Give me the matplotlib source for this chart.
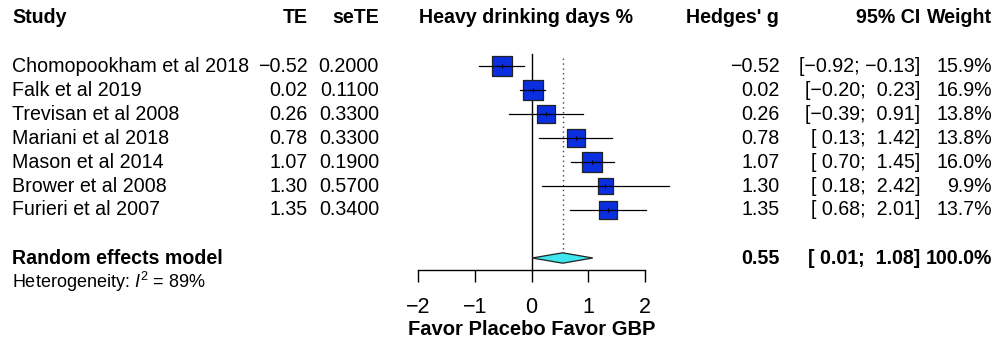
import matplotlib
matplotlib.use("Agg")
import matplotlib.pyplot as plt
import matplotlib.transforms as mtransforms
from matplotlib.patches import Polygon
import numpy as np

plt.rcParams['font.family'] = ['Liberation Sans', 'DejaVu Sans']
plt.rcParams['mathtext.fontset'] = 'custom'
plt.rcParams['mathtext.rm'] = 'Liberation Sans'
plt.rcParams['mathtext.it'] = 'Liberation Sans:italic'

# ---- data ----
studies = ["Chomopookham et al 2018", "Falk et al 2019", "Trevisan et al 2008",
           "Mariani et al 2018", "Mason et al 2014", "Brower et al 2008",
           "Furieri et al 2007"]
te = [-0.52, 0.02, 0.26, 0.78, 1.07, 1.30, 1.35]
sete = [0.2000, 0.1100, 0.3300, 0.3300, 0.1900, 0.5700, 0.3400]
ci_lo = [-0.92, -0.20, -0.39, 0.13, 0.70, 0.18, 0.68]
ci_hi = [-0.13, 0.23, 0.91, 1.42, 1.45, 2.42, 2.01]
weights = [15.9, 16.9, 13.8, 13.8, 16.0, 9.9, 13.7]
pooled_est = 0.55
pooled_lo = 0.01
pooled_hi = 1.08
i2 = 89
xticks = [-2, -1, 0, 1, 2]
xlabel = "Favor Placebo Favor GBP"
title = "Heavy drinking days %"

W, H = 997, 341
fig = plt.figure(figsize=(W / 100, H / 100), dpi=100)
ax = fig.add_axes([418 / W, 0, 227 / W, 1])
ax.set_xlim(-2, 2)
ax.set_ylim((H - 66) / 24, -66 / 24)
ax.patch.set_alpha(0)
for s in ['left', 'top', 'right']:
    ax.spines[s].set_visible(False)
ax.spines['bottom'].set_position(('data', 8.5))
ax.spines['bottom'].set_bounds(-2, 2)
ax.spines['bottom'].set_linewidth(1.0)
ax.set_yticks([])
ax.set_xticks(xticks)
ax.tick_params(axis='x', direction='out', length=8.6, width=1.0, pad=11,
               labelsize=15.5)

FS = 14.1
tr = mtransforms.blended_transform_factory(fig.transFigure, ax.transData)

def fx(px):
    return px / W

def fmt(v):
    return f"{v:.2f}".replace('-', '\u2212')

# headers
hy = -2.04
ax.text(fx(12), hy, "Study", transform=tr, ha='left', va='center', fontsize=FS, fontweight='bold')
ax.text(fx(308), hy, "TE", transform=tr, ha='right', va='center', fontsize=FS, fontweight='bold')
ax.text(fx(379), hy, "seTE", transform=tr, ha='right', va='center', fontsize=FS, fontweight='bold')
ax.text(fx(526), hy, title, transform=tr, ha='center', va='center', fontsize=FS, fontweight='bold')
ax.text(fx(779), hy, "Hedges' g", transform=tr, ha='right', va='center', fontsize=FS, fontweight='bold')
ax.text(fx(920), hy, "95% CI", transform=tr, ha='right', va='center', fontsize=FS, fontweight='bold')
ax.text(fx(992), hy, "Weight", transform=tr, ha='right', va='center', fontsize=FS, fontweight='bold')

# reference lines
ax.plot([0, 0], [-0.5, 8.5], color='black', lw=1.0, zorder=1, clip_on=False)
ax.plot([pooled_est, pooled_est], [-0.35, 7.8], color='#444444', lw=1.0,
        linestyle=(0, (1, 2.5)), zorder=1, clip_on=False)

rows = np.arange(len(studies))
for i, y in enumerate(rows):
    ax.text(fx(12), y, studies[i], transform=tr, ha='left', va='center', fontsize=FS)
    ax.text(fx(308), y, fmt(te[i]), transform=tr, ha='right', va='center', fontsize=FS)
    ax.text(fx(379), y, f"{sete[i]:.4f}", transform=tr, ha='right', va='center', fontsize=FS)
    ax.text(fx(780), y, fmt(te[i]), transform=tr, ha='right', va='center', fontsize=FS)
    lo = fmt(ci_lo[i]) if ci_lo[i] < 0 else " " + fmt(ci_lo[i])
    hi = fmt(ci_hi[i]) if ci_hi[i] < 0 else " " + fmt(ci_hi[i])
    ax.text(fx(920), y, f"[{lo}; {hi}]", transform=tr, ha='right', va='center', fontsize=FS)
    ax.text(fx(992), y, f"{weights[i]:.1f}%", transform=tr, ha='right', va='center', fontsize=FS)
    # CI line
    ax.plot([ci_lo[i], ci_hi[i]], [y, y], color='black', lw=0.9, zorder=3, clip_on=False)

# boxes (area proportional to weight)
side_px = 20 * np.sqrt(np.array(weights) / max(weights))
side_pt = side_px * 0.72
ax.scatter(te, rows, marker='s', s=side_pt ** 2, facecolor='#0A2FE0',
           edgecolor='#222222', linewidths=0.9, zorder=2, clip_on=False)
ax.scatter(te, rows, marker='|', s=(5 * 0.72 * 2) ** 2 / 4, color='black',
           linewidths=0.8, zorder=4)

# pooled
py = 8
ax.text(fx(12), py, "Random effects model", transform=tr, ha='left', va='center',
        fontsize=FS, fontweight='bold')
ax.text(fx(780), py, fmt(pooled_est), transform=tr, ha='right', va='center',
        fontsize=FS, fontweight='bold')
ax.text(fx(920), py, f"[ {fmt(pooled_lo)};  {fmt(pooled_hi)}]", transform=tr, ha='right',
        va='center', fontsize=FS, fontweight='bold')
ax.text(fx(992), py, "100.0%", transform=tr, ha='right', va='center', fontsize=FS,
        fontweight='bold')
dh = 5.2 / 24
diamond = Polygon([[pooled_lo, py], [pooled_est, py - dh], [pooled_hi, py], [pooled_est, py + dh]],
                  closed=True, facecolor='#3FE6EE', edgecolor='#222222', lw=0.9, zorder=3)
ax.add_patch(diamond)

ax.text(fx(12), 9, r"Heterogeneity: $\mathit{I}^2$ = " + f"{i2}%", transform=tr,
        ha='left', va='center', fontsize=13)

ax.text(0, 10.96, xlabel, ha='center', va='center', fontsize=14.5, fontweight='bold')

fig.savefig("out.png", dpi=100)
